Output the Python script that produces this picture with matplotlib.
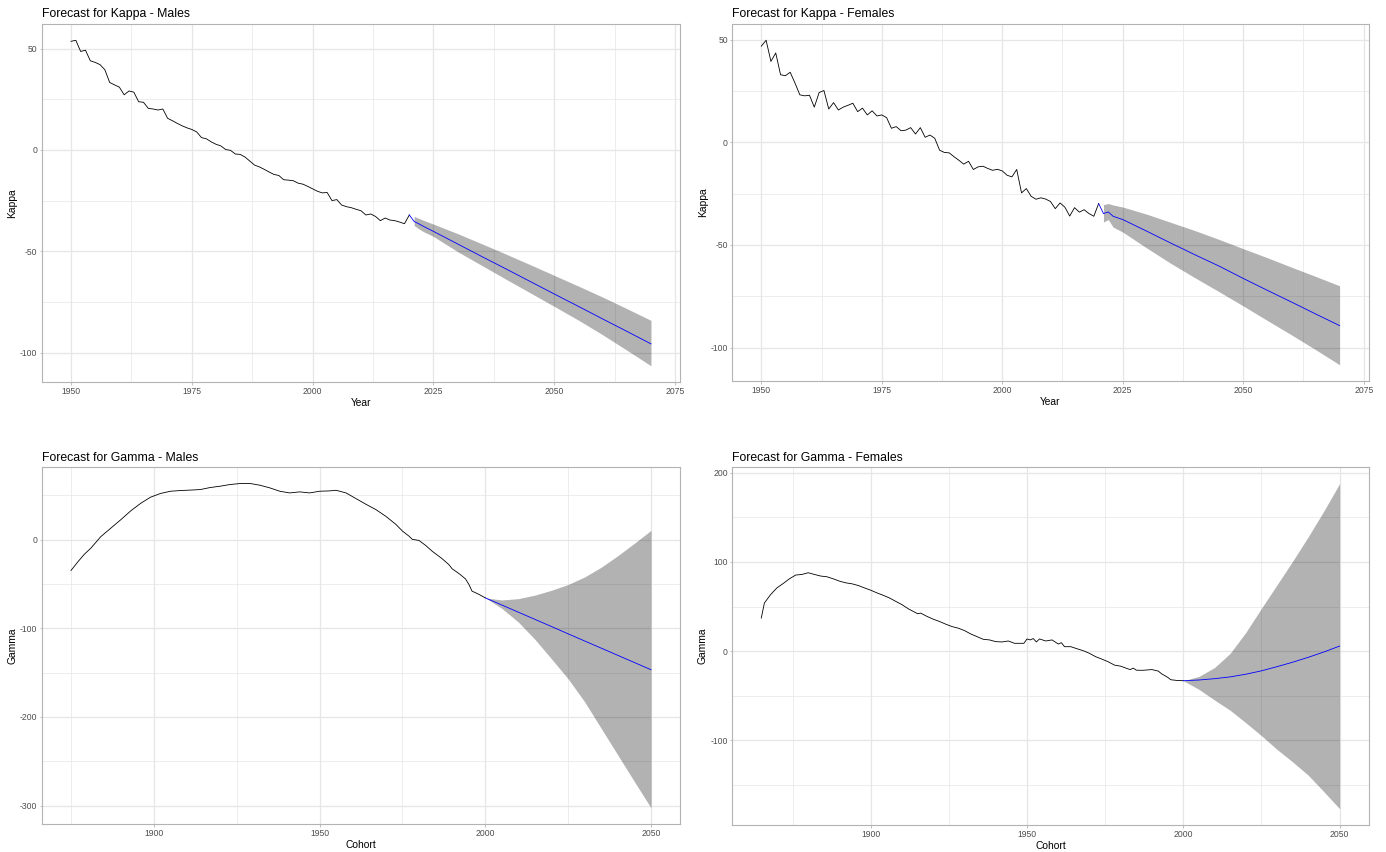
import matplotlib
matplotlib.use("Agg")
import matplotlib.pyplot as plt
from matplotlib.ticker import MultipleLocator

plt.rcParams["font.family"] = ["Liberation Sans", "DejaVu Sans"]
plt.rcParams["axes.unicode_minus"] = False

# --- Kappa (period index), fitted 1950-2020 ---
kappa_years = list(range(1950, 2021))
kappa_males = [
    53.6, 54.1, 48.6, 49.2, 44.0, 43.2, 42.1, 39.6, 33.3, 32.1,
    31.0, 27.2, 29.1, 28.5, 23.8, 23.5, 20.5, 20.2, 19.7, 20.2,
    15.6, 14.4, 13.1, 11.9, 10.9, 10.1, 8.9, 6.1, 5.5, 4.0,
    2.8, 2.0, 0.2, -0.2, -2.0, -2.2, -3.5, -5.5, -7.5, -8.4,
    -9.6, -10.9, -12.1, -12.6, -14.7, -14.9, -15.2, -16.4, -16.9, -18.0,
    -19.2, -20.4, -21.2, -21.0, -25.0, -24.5, -27.2, -28.0, -28.5, -29.3,
    -30.0, -32.1, -31.6, -32.8, -34.9, -33.6, -34.6, -34.9, -35.6, -36.4,
    -32.1,
]
kappa_females = [
    46.9, 49.8, 39.5, 43.6, 33.0, 32.5, 34.2, 28.9, 23.2, 22.7,
    23.0, 17.2, 24.3, 25.3, 16.3, 19.4, 15.8, 17.2, 18.1, 19.1,
    15.0, 16.7, 13.4, 15.4, 12.9, 13.4, 12.1, 6.9, 7.7, 5.7,
    6.0, 7.2, 4.1, 7.2, 2.5, 3.6, 2.0, -3.8, -4.9, -5.1,
    -7.0, -8.7, -10.6, -9.2, -13.2, -11.9, -11.6, -12.7, -13.6, -13.1,
    -13.9, -16.0, -16.8, -13.2, -24.6, -22.5, -26.3, -27.7, -27.0, -27.6,
    -28.8, -32.3, -29.5, -31.6, -35.9, -31.8, -34.0, -32.8, -34.7, -36.0,
    -29.8,
]

# Kappa forecasts (central path starts at the last fitted year, band at the first forecast year)
kf_years = [2020, 2021, 2022, 2023, 2025, 2030, 2035, 2040, 2045, 2050, 2055, 2060, 2065, 2070]
kf_males_mean = [-32.1, -35.3, -36.5, -37.8, -40.2, -46.4, -52.6, -58.7, -64.9, -71.1, -77.2, -83.4, -89.5, -95.7]
kf_males_upper = [None, -32.8, -33.8, -34.8, -36.6, -41.3, -46.3, -51.4, -56.6, -61.9, -67.2, -72.6, -78.3, -84.1]
kf_males_lower = [None, -37.3, -39.0, -40.4, -42.7, -50.2, -57.0, -63.8, -70.5, -77.2, -84.0, -91.2, -98.8, -106.5]
kf_females_mean = [-29.8, -34.7, -33.9, -36.0, -37.6, -43.3, -49.1, -54.8, -60.3, -66.3, -72.1, -77.8, -83.6, -89.3]
kf_females_upper = [None, -30.3, -29.8, -30.5, -31.5, -35.0, -39.0, -43.0, -47.3, -51.8, -56.2, -60.8, -65.3, -69.9]
kf_females_lower = [None, -38.8, -37.6, -41.3, -43.7, -51.5, -59.0, -66.0, -72.8, -79.7, -86.8, -93.8, -101.0, -108.4]

# --- Gamma (cohort index) ---
gm_cohorts = [
    1875, 1877, 1879, 1881, 1884, 1887, 1890, 1893, 1896, 1899,
    1902, 1905, 1908, 1911, 1914, 1917, 1920, 1923, 1926, 1929,
    1932, 1935, 1938, 1941, 1944, 1947, 1950, 1953, 1955, 1958,
    1961, 1964, 1967, 1970, 1973, 1975, 1977, 1978, 1980, 1982,
    1984, 1987, 1989, 1990, 1992, 1994, 1995, 1996, 1998, 2000,
]
gamma_males = [
    -34.7, -25.3, -16.5, -9.5, 3.5, 13.0, 22.5, 32.5, 41.0, 48.0,
    52.2, 54.7, 55.5, 56.0, 56.6, 58.9, 60.4, 62.3, 63.4, 63.5,
    61.5, 58.5, 54.7, 52.8, 54.0, 52.8, 54.7, 55.1, 55.8, 52.8,
    46.4, 40.0, 34.0, 26.4, 17.4, 9.8, 4.0, 0.4, -0.8, -6.4,
    -13.0, -21.5, -28.0, -32.8, -38.0, -44.1, -50.0, -58.0, -61.5, -65.6,
]
gf_cohorts = [
    1865, 1866, 1868, 1870, 1872, 1874, 1876, 1878, 1880, 1882,
    1884, 1886, 1888, 1890, 1892, 1894, 1896, 1898, 1900, 1902,
    1904, 1906, 1908, 1910, 1912, 1914, 1915, 1916, 1918, 1920,
    1922, 1924, 1926, 1928, 1930, 1932, 1934, 1936, 1938, 1940,
    1942, 1944, 1946, 1948, 1949, 1950, 1951, 1952, 1953, 1954,
    1956, 1958, 1960, 1961, 1962, 1964, 1966, 1968, 1970, 1972,
    1974, 1976, 1978, 1980, 1982, 1983, 1984, 1985, 1987, 1990,
    1992, 1993, 1995, 1996, 1998, 2000,
]
gamma_females = [
    37.0, 54.0, 63.4, 70.9, 75.8, 81.1, 85.3, 86.0, 87.9, 86.0,
    84.2, 83.4, 81.1, 78.5, 76.6, 75.5, 73.6, 70.9, 68.3, 65.3,
    62.6, 59.6, 55.8, 52.1, 47.5, 43.8, 41.9, 42.6, 38.9, 35.8,
    33.2, 30.2, 27.5, 25.7, 23.0, 19.2, 16.2, 13.2, 12.5, 10.6,
    10.2, 11.3, 8.7, 8.7, 8.7, 13.6, 12.5, 14.0, 10.2, 13.6,
    11.3, 12.5, 7.9, 9.4, 4.9, 4.9, 2.6, 0.4, -2.6, -6.4,
    -9.1, -12.1, -15.8, -17.0, -19.6, -20.8, -19.2, -21.5, -21.6, -20.8,
    -22.5, -25.4, -29.5, -32.2, -33.0, -33.3,
]

# Gamma forecasts
gf_years = [2000, 2005, 2010, 2015, 2020, 2025, 2030, 2035, 2040, 2045, 2050]
gfc_males_mean = [-65.6, -73.7, -81.8, -89.9, -98.0, -106.2, -114.3, -122.4, -130.5, -138.6, -146.7]
gfc_males_upper = [-65.6, -68.0, -66.5, -62.5, -57.0, -50.5, -42.0, -31.0, -18.0, -4.0, 10.5]
gfc_males_lower = [-65.6, -77.5, -93.0, -112.5, -134.5, -157.0, -183.0, -213.0, -243.0, -273.0, -302.5]
gfc_females_mean = [-33.3, -32.5, -31.0, -29.0, -26.0, -22.2, -17.5, -12.5, -7.0, -1.0, 5.6]
gfc_females_upper = [-33.3, -28.5, -18.5, -2.5, 21.0, 48.0, 74.5, 101.0, 128.5, 157.5, 188.0]
gfc_females_lower = [-33.3, -43.0, -55.0, -66.5, -80.5, -95.0, -110.5, -124.5, -139.5, -158.0, -177.0]

GRID = "#E6E6E6"
BORDER = "#B3B3B3"
TICKTXT = "#4D4D4D"


def style_axes(ax, xmajor, ymajor):
    ax.xaxis.set_major_locator(MultipleLocator(xmajor))
    ax.xaxis.set_minor_locator(MultipleLocator(xmajor / 2))
    ax.yaxis.set_major_locator(MultipleLocator(ymajor))
    ax.yaxis.set_minor_locator(MultipleLocator(ymajor / 2))
    ax.grid(which="major", color=GRID, linewidth=0.9)
    ax.grid(which="minor", color=GRID, linewidth=0.5)
    ax.set_axisbelow(True)
    for sp in ax.spines.values():
        sp.set_color(BORDER)
        sp.set_linewidth(0.8)
    ax.tick_params(which="major", length=1.8, width=0.6, color=BORDER,
                   labelsize=6.2, labelcolor=TICKTXT, pad=1.5)
    ax.tick_params(which="minor", length=0)


def padded(lo, hi):
    d = (hi - lo) * 0.05
    return lo - d, hi + d


def draw(ax, x, y, fx, fmean, fupper, flower, title, xlabel, ylabel):
    band_x = [a for a, u in zip(fx, fupper) if u is not None]
    band_hi = [u for u in fupper if u is not None]
    band_lo = [l for l in flower if l is not None]
    ax.fill_between(band_x, band_lo, band_hi, color="black", alpha=0.3, linewidth=0)
    ax.plot(x, y, color="black", linewidth=0.6)
    ax.plot(fx, fmean, color="blue", linewidth=0.6)
    ax.set_xlim(*padded(min(x), max(fx)))
    ax.set_ylim(*padded(min(min(y), min(band_lo)), max(max(y), max(band_hi))))
    ax.set_title(title, loc="left", fontsize=8.8, pad=4.8)
    ax.set_xlabel(xlabel, fontsize=7.4, labelpad=2)
    ax.set_ylabel(ylabel, fontsize=7.4, labelpad=2)


fig = plt.figure(figsize=(13.86, 8.52), dpi=100)
ax1 = fig.add_axes([0.0303, 0.5516, 0.4603, 0.4202])
ax2 = fig.add_axes([0.5284, 0.5528, 0.4590, 0.4190])
ax3 = fig.add_axes([0.0303, 0.0329, 0.4603, 0.4187])
ax4 = fig.add_axes([0.5284, 0.0317, 0.4590, 0.4198])

draw(ax1, kappa_years, kappa_males, kf_years, kf_males_mean, kf_males_upper, kf_males_lower,
     "Forecast for Kappa - Males", "Year", "Kappa")
style_axes(ax1, 25, 50)
draw(ax2, kappa_years, kappa_females, kf_years, kf_females_mean, kf_females_upper, kf_females_lower,
     "Forecast for Kappa - Females", "Year", "Kappa")
style_axes(ax2, 25, 50)
draw(ax3, gm_cohorts, gamma_males, gf_years, gfc_males_mean, gfc_males_upper, gfc_males_lower,
     "Forecast for Gamma - Males", "Cohort", "Gamma")
style_axes(ax3, 50, 100)
draw(ax4, gf_cohorts, gamma_females, gf_years, gfc_females_mean, gfc_females_upper, gfc_females_lower,
     "Forecast for Gamma - Females", "Cohort", "Gamma")
style_axes(ax4, 50, 100)

fig.savefig("out.png", dpi=100)
